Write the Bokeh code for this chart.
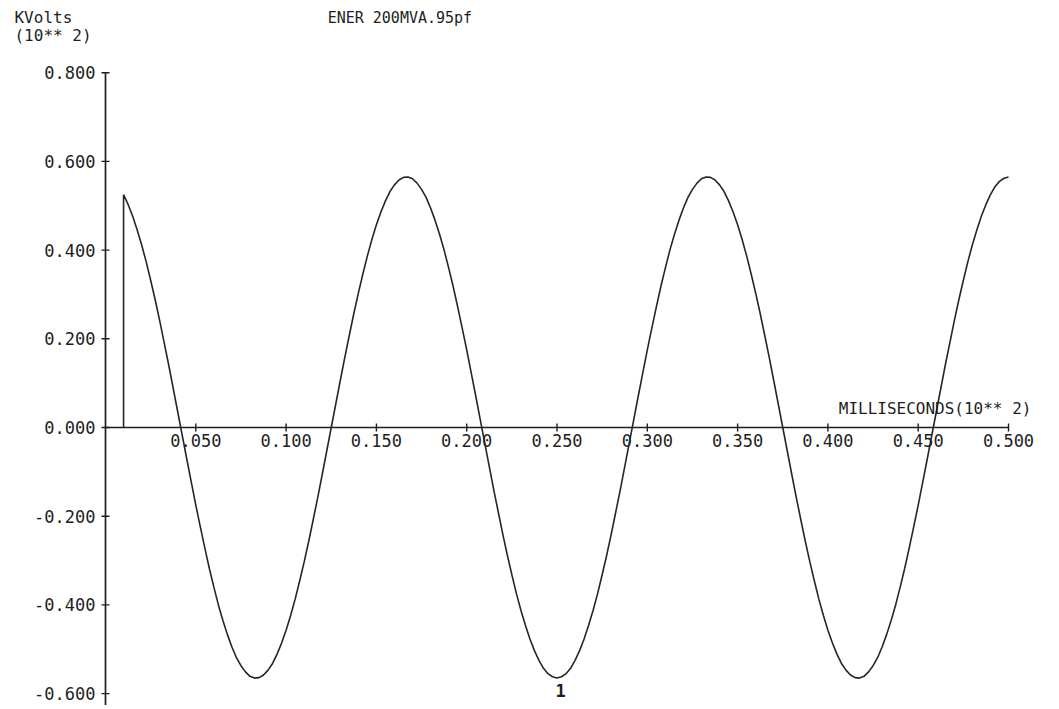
from bokeh.plotting import figure
from bokeh.models import Range1d
from bokeh.core.properties import value
from bokeh.embed import file_html
from bokeh.resources import INLINE

# ---- data ----
time_ms = [
    0.010, 0.010, 0.015, 0.020, 0.025, 0.030, 0.035, 0.040, 0.045, 0.050,
    0.055, 0.060, 0.065, 0.070, 0.075, 0.080, 0.085, 0.090, 0.095, 0.100,
    0.105, 0.110, 0.115, 0.120, 0.125, 0.130, 0.135, 0.140, 0.145, 0.150,
    0.155, 0.160, 0.165, 0.170, 0.175, 0.180, 0.185, 0.190, 0.195, 0.200,
    0.205, 0.210, 0.215, 0.220, 0.225, 0.230, 0.235, 0.240, 0.245, 0.250,
    0.255, 0.260, 0.265, 0.270, 0.275, 0.280, 0.285, 0.290, 0.295, 0.300,
    0.305, 0.310, 0.315, 0.320, 0.325, 0.330, 0.335, 0.340, 0.345, 0.350,
    0.355, 0.360, 0.365, 0.370, 0.375, 0.380, 0.385, 0.390, 0.395, 0.400,
    0.405, 0.410, 0.415, 0.420, 0.425, 0.430, 0.435, 0.440, 0.445, 0.450,
    0.455, 0.460, 0.465, 0.470, 0.475, 0.480, 0.485, 0.490, 0.495, 0.500,
]
kvolts = [
    0.000, 0.525, 0.477, 0.412, 0.332, 0.241, 0.141, 0.035, -0.071, -0.175,
    -0.272, -0.360, -0.435, -0.495, -0.537, -0.561, -0.564, -0.547, -0.511, -0.457,
    -0.387, -0.303, -0.208, -0.106, 0.000, 0.106, 0.208, 0.303, 0.387, 0.457,
    0.511, 0.547, 0.564, 0.561, 0.537, 0.495, 0.435, 0.360, 0.272, 0.175,
    0.071, -0.035, -0.141, -0.241, -0.332, -0.412, -0.477, -0.525, -0.555, -0.565,
    -0.555, -0.525, -0.477, -0.412, -0.332, -0.241, -0.141, -0.035, 0.071, 0.175,
    0.272, 0.360, 0.435, 0.495, 0.537, 0.561, 0.564, 0.547, 0.511, 0.457,
    0.387, 0.303, 0.208, 0.106, 0.000, -0.106, -0.208, -0.303, -0.387, -0.457,
    -0.511, -0.547, -0.564, -0.561, -0.537, -0.495, -0.435, -0.360, -0.272, -0.175,
    -0.071, 0.035, 0.141, 0.241, 0.332, 0.412, 0.477, 0.525, 0.555, 0.565,
]
# readings between the samples above
time_mid = [
    0.0125, 0.0175, 0.0225, 0.0275, 0.0325, 0.0375, 0.0425, 0.0475,
    0.0525, 0.0575, 0.0625, 0.0675, 0.0725, 0.0775, 0.0825, 0.0875, 0.0925, 0.0975,
    0.1025, 0.1075, 0.1125, 0.1175, 0.1225, 0.1275, 0.1325, 0.1375, 0.1425, 0.1475,
    0.1525, 0.1575, 0.1625, 0.1675, 0.1725, 0.1775, 0.1825, 0.1875, 0.1925, 0.1975,
    0.2025, 0.2075, 0.2125, 0.2175, 0.2225, 0.2275, 0.2325, 0.2375, 0.2425, 0.2475,
    0.2525, 0.2575, 0.2625, 0.2675, 0.2725, 0.2775, 0.2825, 0.2875, 0.2925, 0.2975,
    0.3025, 0.3075, 0.3125, 0.3175, 0.3225, 0.3275, 0.3325, 0.3375, 0.3425, 0.3475,
    0.3525, 0.3575, 0.3625, 0.3675, 0.3725, 0.3775, 0.3825, 0.3875, 0.3925, 0.3975,
    0.4025, 0.4075, 0.4125, 0.4175, 0.4225, 0.4275, 0.4325, 0.4375, 0.4425, 0.4475,
    0.4525, 0.4575, 0.4625, 0.4675, 0.4725, 0.4775, 0.4825, 0.4875, 0.4925, 0.4975,
]
kvolts_mid = [
    0.503, 0.446, 0.374, 0.288, 0.191, 0.088, -0.018, -0.123,
    -0.224, -0.318, -0.400, -0.467, -0.519, -0.551, -0.565, -0.558, -0.532, -0.486,
    -0.424, -0.346, -0.257, -0.158, -0.053, 0.053, 0.158, 0.257, 0.346, 0.424,
    0.486, 0.532, 0.558, 0.565, 0.551, 0.519, 0.467, 0.400, 0.318, 0.224,
    0.123, 0.018, -0.088, -0.191, -0.288, -0.374, -0.446, -0.503, -0.543, -0.562,
    -0.562, -0.543, -0.503, -0.446, -0.374, -0.288, -0.191, -0.088, 0.018, 0.123,
    0.224, 0.318, 0.400, 0.467, 0.519, 0.551, 0.565, 0.558, 0.532, 0.486,
    0.424, 0.346, 0.257, 0.158, 0.053, -0.053, -0.158, -0.257, -0.346, -0.424,
    -0.486, -0.532, -0.558, -0.565, -0.551, -0.519, -0.467, -0.400, -0.318, -0.224,
    -0.123, -0.018, 0.088, 0.191, 0.288, 0.374, 0.446, 0.503, 0.543, 0.562,
]
assert len(time_ms) == len(kvolts)
assert len(time_mid) == len(kvolts_mid)

x_ticks = [0.05, 0.10, 0.15, 0.20, 0.25, 0.30, 0.35, 0.40, 0.45, 0.50]
x_tick_labels = ["0.050", "0.100", "0.150", "0.200", "0.250",
                 "0.300", "0.350", "0.400", "0.450", "0.500"]
y_ticks = [-0.6, -0.4, -0.2, 0.0, 0.2, 0.4, 0.6, 0.8]
y_tick_labels = ["-0.600", "-0.400", "-0.200", "0.000",
                 "0.200", "0.400", "0.600", "0.800"]

title_text = "ENER 200MVA.95pf"
y_label_lines = ["KVolts", "(10** 2)"]
x_label = "MILLISECONDS(10**  2)"
curve_label = "1"

# merge the two sets of readings in time order
pts = sorted(list(zip(time_ms, kvolts)) + list(zip(time_mid, kvolts_mid)),
             key=lambda t: t[0])
curve_x = [t for t, _ in pts]
curve_y = [v for _, v in pts]

FONT = "DejaVu Sans Mono"
INK = "#1e1e1e"

x_range = Range1d(-0.05814, 0.5238)
y_range = Range1d(-0.6268, 0.9628)
p = figure(width=1051, height=705, output_backend="svg", toolbar_location=None,
           x_range=x_range, y_range=y_range,
           x_axis_location=None, y_axis_location=None,
           min_border_left=0, min_border_right=0, min_border_top=0,
           min_border_bottom=0)
p.grid.visible = False
p.outline_line_color = None
p.background_fill_color = "white"
p.border_fill_color = "white"

# y axis at x = 0
p.line(x=[0, 0], y=[y_ticks[-1], y_range.start], line_color=INK, line_width=1.7)
p.scatter(x=[0] * len(y_ticks), y=y_ticks, marker="dash", size=8,
          line_color=INK, line_width=1.4)
p.text(x=[0] * len(y_ticks), y=y_ticks, text=y_tick_labels,
       text_align="right", text_baseline="middle", x_offset=-10,
       text_font=value(FONT), text_font_size="17px", text_color=INK)

# x axis at y = 0
p.line(x=[0, x_ticks[-1]], y=[0, 0], line_color=INK, line_width=1.7)
p.scatter(x=x_ticks, y=[0] * len(x_ticks), marker="dash", angle=1.5708,
          size=8, line_color=INK, line_width=1.4)
p.text(x=x_ticks, y=[0] * len(x_ticks), text=x_tick_labels,
       text_align="center", text_baseline="top", y_offset=6,
       text_font=value(FONT), text_font_size="17px", text_color=INK)

# curve
p.line(x=curve_x, y=curve_y, line_color="#262626", line_width=1.6)

p.text(x=[0.252], y=[-0.594], text=[curve_label],
       text_align="center", text_baseline="middle",
       text_font=value(FONT), text_font_size="17px", text_color=INK,
       text_font_style="bold")

# titles
p.text(x=[0.123], y=[0.924], text=[title_text], text_align="left",
       text_baseline="middle", text_font=value(FONT), text_font_size="15px",
       text_color=INK)
p.text(x=[-0.0504, -0.0504], y=[0.924, 0.884], text=y_label_lines,
       text_align="left", text_baseline="middle", text_font=value(FONT),
       text_font_size="16px", text_color=INK)
p.text(x=[0.406], y=[0.043], text=[x_label], text_align="left",
       text_baseline="middle", text_font=value(FONT), text_font_size="16px",
       text_color=INK)

open("out.html", "w").write(file_html(p, INLINE))
